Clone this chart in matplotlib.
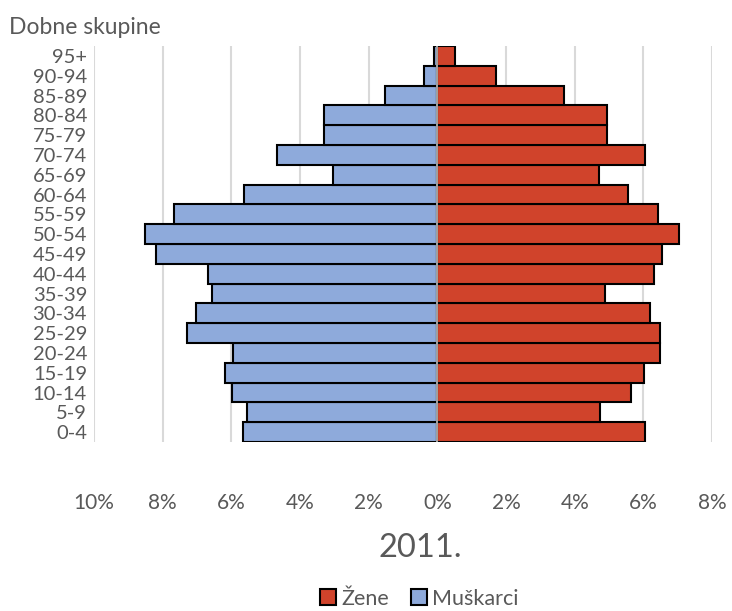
import matplotlib
matplotlib.use("Agg")
import matplotlib.pyplot as plt
from matplotlib.patches import Patch

plt.rcParams['font.family'] = ['Lato', 'DejaVu Sans']

groups = ['0-4', '5-9', '10-14', '15-19', '20-24', '25-29', '30-34', '35-39',
          '40-44', '45-49', '50-54', '55-59', '60-64', '65-69', '70-74',
          '75-79', '80-84', '85-89', '90-94', '95+']
# postotci, od 0-4 prema 95+
muskarci = [5.66, 5.54, 5.98, 6.17, 5.94, 7.29, 7.03, 6.56, 6.69, 8.20,
            8.50, 7.67, 5.64, 3.04, 4.67, 3.30, 3.30, 1.53, 0.39, 0.10]
zene = [6.05, 4.75, 5.64, 6.01, 6.48, 6.48, 6.20, 4.88, 6.30, 6.53,
        7.04, 6.43, 5.54, 4.71, 6.05, 4.94, 4.94, 3.70, 1.70, 0.52]
xticks = [-10, -8, -6, -4, -2, 0, 2, 4, 6, 8]

red = '#D0432B'
blue = '#8EAADB'
grey = '#595959'

fig = plt.figure(figsize=(7.32, 6.11), dpi=100)
ax = fig.add_axes([0.1284, 0.2766, 0.8443, 0.648])

y = range(len(groups))
ax.barh(y, [-m for m in muskarci], height=1.0, color=blue, edgecolor='black',
        linewidth=1.5, zorder=2)
ax.barh(y, zene, height=1.0, color=red, edgecolor='black', linewidth=1.5, zorder=2)
ax.axvline(0, color='#BFBFBF', linewidth=1.2, zorder=3)

ax.set_xlim(-10, 8)
ax.set_ylim(-0.5, len(groups) - 0.5)
ax.set_xticks(xticks)
ax.set_xticklabels([f'{abs(t)}%' for t in xticks])
ax.set_yticks(list(y))
ax.set_yticklabels(groups)
ax.grid(axis='x', color='#D9D9D9', linewidth=1.5, zorder=0)
ax.set_axisbelow(True)
for s in ax.spines.values():
    s.set_visible(False)
ax.tick_params(axis='x', length=0, pad=37, labelsize=15, labelcolor=grey)
ax.tick_params(axis='y', length=0, pad=5, labelsize=14.5, labelcolor=grey)

fig.text(0.012, 0.955, 'Dobne skupine', fontsize=16.5, color=grey, ha='left', va='center')
fig.text(0.574, 0.103, '2011.', fontsize=23.5, color=grey, ha='center', va='center')

handles = [Patch(facecolor=red, edgecolor='black', linewidth=1.5, label='Žene'),
           Patch(facecolor=blue, edgecolor='black', linewidth=1.5, label='Muškarci')]
leg = fig.legend(handles=handles, loc='center', bbox_to_anchor=(0.573, 0.02),
                 ncol=2, frameon=False, fontsize=15.5, handlelength=0.75,
                 handleheight=0.75, handletextpad=0.25, columnspacing=1.0)
for t in leg.get_texts():
    t.set_color(grey)

fig.savefig('out.png', dpi=100)
